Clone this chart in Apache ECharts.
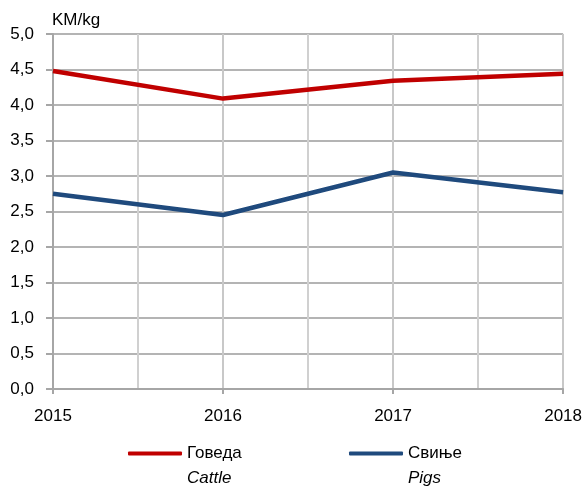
<!DOCTYPE html>
<html lang="sr">
<head>
    <meta charset="UTF-8">
    <title>KM/kg</title>
    <script type="text/javascript" src="https://cdn.jsdelivr.net/npm/echarts@6/dist/echarts.min.js"></script>
    <style>
        html, body { margin: 0; padding: 0; background: #fff; }
    </style>
</head>
<body>
    <div id="main" style="width: 585px;height:495px;"></div>
    <script type="text/javascript">
        var years = [2015, 2016, 2017, 2018];
        var cattle = [4.48, 4.09, 4.34, 4.44];
        var pigs = [2.75, 2.45, 3.05, 2.77];
        var namesSr = ['Говеда', 'Свиње'];
        var namesEn = ['Cattle', 'Pigs'];

        var font = "'Liberation Sans Narrow', 'Arial Narrow', 'Liberation Sans', sans-serif";

        function pairs(vals) {
            return years.map(function (y, i) { return [y, vals[i]]; });
        }

        function legendFmt(name) {
            var i = namesSr.indexOf(name);
            return ' \n{n|' + name + '}\n{e|' + namesEn[i] + '}';
        }

        var legendText = {
            fontFamily: font,
            fontSize: 17,
            lineHeight: 25,
            color: '#000',
            rich: {
                n: { fontFamily: font, fontSize: 17, lineHeight: 25, color: '#000' },
                e: { fontFamily: font, fontSize: 17, lineHeight: 25, color: '#000', fontStyle: 'italic' }
            }
        };

        var myChart = echarts.init(document.getElementById('main'));

        var option = {
            animation: false,
            title: {
                text: 'KM/kg',
                left: 47,
                top: 7,
                textStyle: { fontFamily: font, fontSize: 17, fontWeight: 'normal', color: '#000' }
            },
            legend: [{
                data: [namesSr[0]],
                left: 123,
                top: 411,
                icon: 'roundRect',
                itemWidth: 54,
                itemHeight: 4,
                formatter: legendFmt,
                textStyle: legendText
            }, {
                data: [namesSr[1]],
                left: 344,
                top: 411,
                icon: 'roundRect',
                itemWidth: 54,
                itemHeight: 4,
                formatter: legendFmt,
                textStyle: legendText
            }],
            grid: {
                left: 53,
                right: 19,
                top: 34,
                bottom: 106,
                containLabel: false
            },
            xAxis: {
                type: 'value',
                min: 2015,
                max: 2018,
                interval: 1,
                axisLine: { show: true, lineStyle: { color: '#a6a6a6', width: 2 } },
                axisTick: { show: true, length: 5, lineStyle: { color: '#a6a6a6', width: 2 } },
                axisLabel: {
                    margin: 19,
                    fontFamily: font,
                    fontSize: 17,
                    color: '#000',
                    formatter: function (v) { return String(v); }
                },
                splitLine: { show: true, lineStyle: { color: '#c8c8c8', width: 2 } },
                minorTick: { show: false, splitNumber: 2 },
                minorSplitLine: { show: true, lineStyle: { color: '#d0d0d0', width: 2 } }
            },
            yAxis: {
                type: 'value',
                min: 0,
                max: 5,
                interval: 0.5,
                axisLine: { show: true, lineStyle: { color: '#a6a6a6', width: 2 } },
                axisTick: { show: true, length: 7, lineStyle: { color: '#a6a6a6', width: 2 } },
                axisLabel: {
                    margin: 19,
                    fontFamily: font,
                    fontSize: 17,
                    color: '#000',
                    formatter: function (v) { return v.toFixed(1).replace('.', ','); }
                },
                splitLine: { show: true, lineStyle: { color: '#b4b4b4', width: 2 } }
            },
            series: [{
                name: namesSr[0],
                type: 'line',
                data: pairs(cattle),
                showSymbol: false,
                symbol: 'none',
                color: '#c00000',
                lineStyle: { color: '#c00000', width: 4.5 }
            }, {
                name: namesSr[1],
                type: 'line',
                data: pairs(pigs),
                showSymbol: false,
                symbol: 'none',
                color: '#1f4a7d',
                lineStyle: { color: '#1f4a7d', width: 4.5 }
            }]
        };

        myChart.setOption(option);
    </script>
</body>
</html>
